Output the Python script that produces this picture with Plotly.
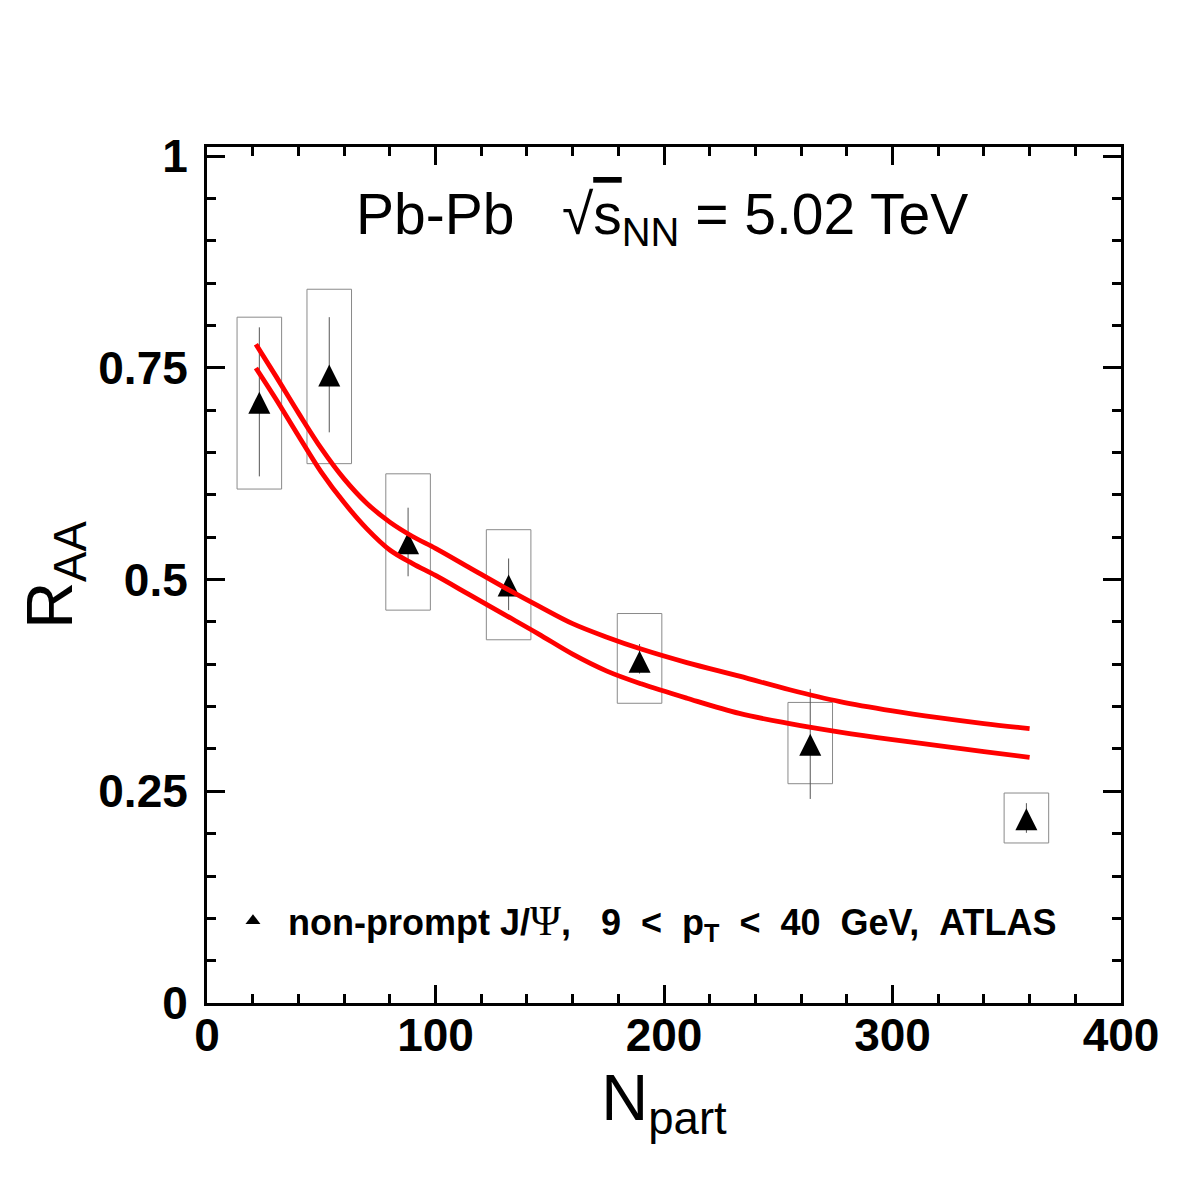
import plotly.graph_objects as go

# ---- data ----
npart = [22.9, 53.5, 88.0, 132.0, 189.3, 264.0, 358.6]
raa = [0.709, 0.741, 0.543, 0.493, 0.403, 0.305, 0.217]
stat_hi = [0.089, 0.069, 0.042, 0.032, 0.021, 0.066, 0.019]
stat_lo = [0.087, 0.067, 0.039, 0.029, 0.014, 0.064, 0.016]
sys_hi = [0.101, 0.102, 0.082, 0.066, 0.057, 0.050, 0.031]
sys_lo = [0.102, 0.104, 0.079, 0.064, 0.049, 0.046, 0.028]
sys_halfwidth = 9.75

curve_npart = [21.4, 30, 40, 50, 60, 70, 80, 90, 100, 115, 130, 145, 160,
               175, 190, 210, 233, 255, 277, 300, 320, 340, 360]
curve_upper = [0.778, 0.741, 0.697, 0.655, 0.619, 0.590, 0.568, 0.551, 0.537,
               0.514, 0.491, 0.469, 0.448, 0.432, 0.418, 0.402, 0.386, 0.370,
               0.356, 0.345, 0.337, 0.330, 0.324]
curve_lower = [0.750, 0.714, 0.670, 0.627, 0.591, 0.560, 0.535, 0.519, 0.505,
               0.482, 0.459, 0.436, 0.412, 0.392, 0.377, 0.360, 0.342, 0.330,
               0.320, 0.311, 0.304, 0.297, 0.290]

x_ticks = [0, 100, 200, 300, 400]
y_ticks = [0, 0.25, 0.5, 0.75, 1]
y_ticktext = ["0", "0.25", "0.5", "0.75", "1"]

NB = "\u00a0"
PSI = ("<span style='font-family:\"Liberation Serif\", serif; "
       "font-weight:normal; font-size:42px'>Ψ</span>")
legend_label = ("non-prompt J/" + PSI + "," + NB * 3 + "9"
                + NB * 2 + "&lt;" + NB * 2 + "p<sub>T</sub>" + NB * 2 + "&lt;"
                + NB * 2 + "40" + NB * 2 + "GeV," + NB * 2 + "ATLAS")
title_text = ("Pb-Pb" + NB * 3 + "√<span style='text-decoration:overline'>s</span>"
              "<sub>NN</sub> = 5.02 TeV")

# ---- layout geometry ----
W = H = 1182
M_L, M_R, M_T, M_B = 207, 61, 147, 179
X_RANGE = [0, 400]
Y_RANGE = [0, 1.011]
MARKER = 22
plot_h = H - M_T - M_B
shift = (MARKER / 2) / (plot_h / (Y_RANGE[1] - Y_RANGE[0]))
FONT = "Liberation Sans, Arial, Helvetica, sans-serif"

fig = go.Figure()

# systematic boxes
for n, r, hi, lo in zip(npart, raa, sys_hi, sys_lo):
    fig.add_shape(type="rect", xref="x", yref="y",
                  x0=n - sys_halfwidth, x1=n + sys_halfwidth,
                  y0=r - lo, y1=r + hi,
                  line=dict(color="#8a8a8a", width=1), fillcolor="rgba(0,0,0,0)",
                  layer="below")

# statistical error bars
fig.add_trace(go.Scatter(
    x=npart, y=raa, mode="markers", showlegend=False, hoverinfo="skip",
    marker=dict(size=1, color="rgba(0,0,0,0)"),
    error_y=dict(type="data", symmetric=False, array=stat_hi, arrayminus=stat_lo,
                 color="#555555", thickness=1, width=0),
    yaxis="y"))

# triangles (on a y axis offset by half a marker so the triangle is centred)
fig.add_trace(go.Scatter(
    x=npart, y=raa, mode="markers", showlegend=False,
    marker=dict(symbol="arrow-up", size=MARKER, color="black",
                line=dict(width=0)),
    yaxis="y2"))

# model curves
for ys in (curve_upper, curve_lower):
    fig.add_trace(go.Scatter(
        x=curve_npart, y=ys, mode="lines", showlegend=False,
        line=dict(color="#ff0000", width=4.8, shape="spline", smoothing=1.0),
        yaxis="y3"))

# legend entry
fig.add_trace(go.Scatter(
    x=[None], y=[None], mode="markers", name=legend_label,
    marker=dict(symbol="triangle-up", size=13, color="black")))

axis_common = dict(
    ticks="inside", ticklen=18, tickwidth=3, tickcolor="black",
    showline=True, linewidth=3, linecolor="black", mirror="ticks",
    showgrid=False, zeroline=False,
    tickfont=dict(family=FONT, size=46, color="black", weight="bold"),
)

fig.update_layout(
    width=W, height=H,
    margin=dict(l=M_L, r=M_R, t=M_T, b=M_B),
    paper_bgcolor="white", plot_bgcolor="white",
    font=dict(family=FONT, color="black"),
    xaxis=dict(range=X_RANGE, tickmode="array", tickvals=x_ticks,
               ticktext=[str(v) for v in x_ticks],
               minor=dict(dtick=20, tick0=0, ticks="inside", ticklen=9,
                          tickwidth=3, tickcolor="black", showgrid=False),
               title=dict(text="N<sub>part</sub>",
                          font=dict(family=FONT, size=65, color="black"),
                          standoff=14),
               ticklabelstandoff=-10,
               **axis_common),
    yaxis=dict(range=Y_RANGE, tickmode="array", tickvals=y_ticks,
               ticktext=y_ticktext,
               minor=dict(dtick=0.05, tick0=0, ticks="inside", ticklen=9,
                          tickwidth=3, tickcolor="black", showgrid=False),
               title=dict(text="R<sub>AA</sub>",
                          font=dict(family=FONT, size=65, color="black"),
                          standoff=5),
               ticklabelstandoff=7,
               **axis_common),
    yaxis2=dict(range=[Y_RANGE[0] - shift, Y_RANGE[1] - shift],
                overlaying="y", visible=False),
    yaxis3=dict(range=Y_RANGE, overlaying="y", visible=False),
    showlegend=True,
    legend=dict(x=0.012, y=0.096, xanchor="left", yanchor="middle",
                xref="paper", yref="paper",
                bgcolor="rgba(0,0,0,0)", itemwidth=60,
                font=dict(family=FONT, size=36, color="black", weight="bold")),
    annotations=[dict(text=title_text, xref="paper", yref="paper",
                      x=(354 - M_L) / (W - M_L - M_R), y=(H - M_B - 180) / plot_h,
                      xanchor="left", yanchor="top", showarrow=False,
                      font=dict(family=FONT, size=57, color="black"))],
)

fig.write_html("out.html")
